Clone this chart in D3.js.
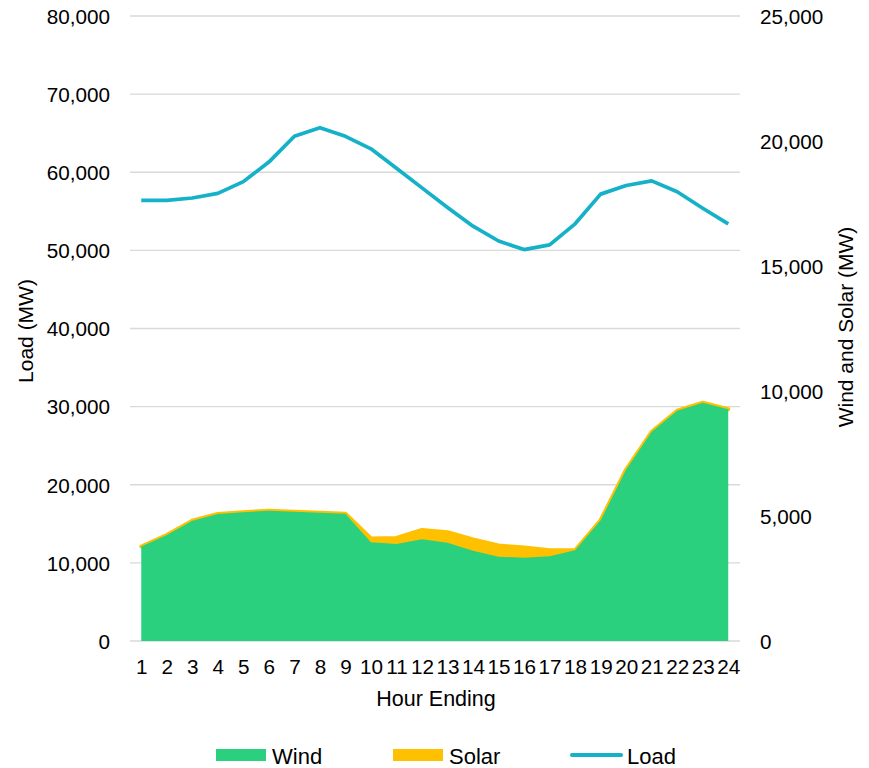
<!DOCTYPE html>
<html><head><meta charset="utf-8">
<script src="https://cdn.jsdelivr.net/npm/d3@7/dist/d3.min.js"></script>
<style>
html,body{margin:0;padding:0;background:#fff;}
text{font-family:"Liberation Sans",Arial,sans-serif;fill:#000;}
</style></head>
<body>
<svg id="c" width="869" height="768"></svg>
<script>
const hours = ["1","2","3","4","5","6","7","8","9","10","11","12","13","14","15","16","17","18","19","20","21","22","23","24"];
const load = [56400,56400,56700,57300,58800,61300,64600,65700,64600,63000,60500,58000,55500,53100,51200,50100,50700,53400,57200,58300,58900,57500,55400,53400];
const wind = [3780,4240,4810,5080,5150,5210,5170,5130,5090,3950,3880,4070,3930,3610,3370,3330,3390,3630,4830,6860,8370,9210,9530,9270];
const solar = [0,0,0,0,0,0,0,0,0,150,240,370,420,450,450,410,240,0,0,0,0,0,0,0];
const leftTicks = [0,10000,20000,30000,40000,50000,60000,70000,80000];
const rightTicks = [0,5000,10000,15000,20000,25000];
const seriesNames = ["Wind","Solar","Load"];
const colors = {Wind:"#2ad07e", Solar:"#ffc000", Load:"#14b1c8"};

const svg = d3.select("#c");
const plotTop = 16, plotBottom = 641, plotLeft = 130, plotRight = 740;
const x = d3.scalePoint().domain(hours).range([128.5, 741]).padding(0.5);
const yL = d3.scaleLinear().domain([0,80000]).range([plotBottom, plotTop]);
const yR = d3.scaleLinear().domain([0,25000]).range([plotBottom, plotTop]);
const fmt = d3.format(",");
const fs = 20.7;

// gridlines
svg.append("g").selectAll("line").data(leftTicks).join("line")
  .attr("x1", plotLeft).attr("x2", plotRight)
  .attr("y1", d=>yL(d)).attr("y2", d=>yL(d))
  .attr("stroke", "#d9d9d9").attr("stroke-width", 1.3);

// stacked data
const rows = hours.map((h,i)=>({h, Wind:wind[i], Solar:solar[i]}));
const stack = d3.stack().keys(["Wind","Solar"])(rows);
const area = d3.area().x(d=>x(d.data.h)).y0(d=>yR(d[0])).y1(d=>yR(d[1]));

// solar with outline, then wind on top
svg.append("path").datum(stack[1]).attr("d", area)
  .attr("fill", colors.Solar).attr("stroke", colors.Solar).attr("stroke-width", 4).attr("stroke-linejoin","round");
svg.append("path").datum(stack[0]).attr("d", area).attr("fill", colors.Wind);

// load line
const line = d3.line().x((d,i)=>x(hours[i])).y(d=>yL(d));
svg.append("path").datum(load).attr("d", line)
  .attr("fill","none").attr("stroke", colors.Load).attr("stroke-width", 3.7).attr("stroke-linejoin","round");

// left axis
const axL = d3.axisLeft(yL).tickValues(leftTicks).tickFormat(fmt).tickSize(0).tickPadding(0);
const gL = svg.append("g").attr("transform", "translate(110,0)").call(axL);
gL.select(".domain").remove();
gL.selectAll("text").attr("font-size", fs).attr("font-family", null).attr("dy","0.35em");

// right axis
const axR = d3.axisRight(yR).tickValues(rightTicks).tickFormat(fmt).tickSize(0).tickPadding(0);
const gR = svg.append("g").attr("transform", "translate(760,0)").call(axR);
gR.select(".domain").remove();
gR.selectAll("text").attr("font-size", fs).attr("font-family", null).attr("dy","0.35em");

// bottom axis
const axB = d3.axisBottom(x).tickSize(0).tickPadding(0);
const gB = svg.append("g").attr("transform", "translate(0,660)").call(axB);
gB.select(".domain").remove();
gB.selectAll("text").attr("font-size", fs).attr("font-family", null).attr("dy","0.68em");

// titles
svg.append("text").attr("x", 436).attr("y", 706).attr("text-anchor","middle").attr("font-size", 21.5).text("Hour Ending");
svg.append("text").attr("transform","translate(33,331) rotate(-90)").attr("text-anchor","middle").attr("font-size", 21).text("Load (MW)");
svg.append("text").attr("transform","translate(853,327) rotate(-90)").attr("text-anchor","middle").attr("font-size", 21).text("Wind and Solar (MW)");

// legend
const lg = svg.append("g");
const legendX = [216, 393, 571];
seriesNames.forEach((n,i)=>{
  const g = lg.append("g").attr("transform", `translate(${legendX[i]},755)`);
  if (n === "Load") {
    g.append("line").attr("x1",1).attr("x2",50).attr("y1",0).attr("y2",0)
      .attr("stroke", colors.Load).attr("stroke-width", 4).attr("stroke-linecap","round");
  } else {
    g.append("rect").attr("x",0).attr("y",-6).attr("width",50).attr("height",12).attr("fill", colors[n]);
  }
  g.append("text").attr("x", n==="Load"?56:56).attr("y",1).attr("dy","0.35em").attr("font-size", 22).text(n);
});
</script>
</body></html>
